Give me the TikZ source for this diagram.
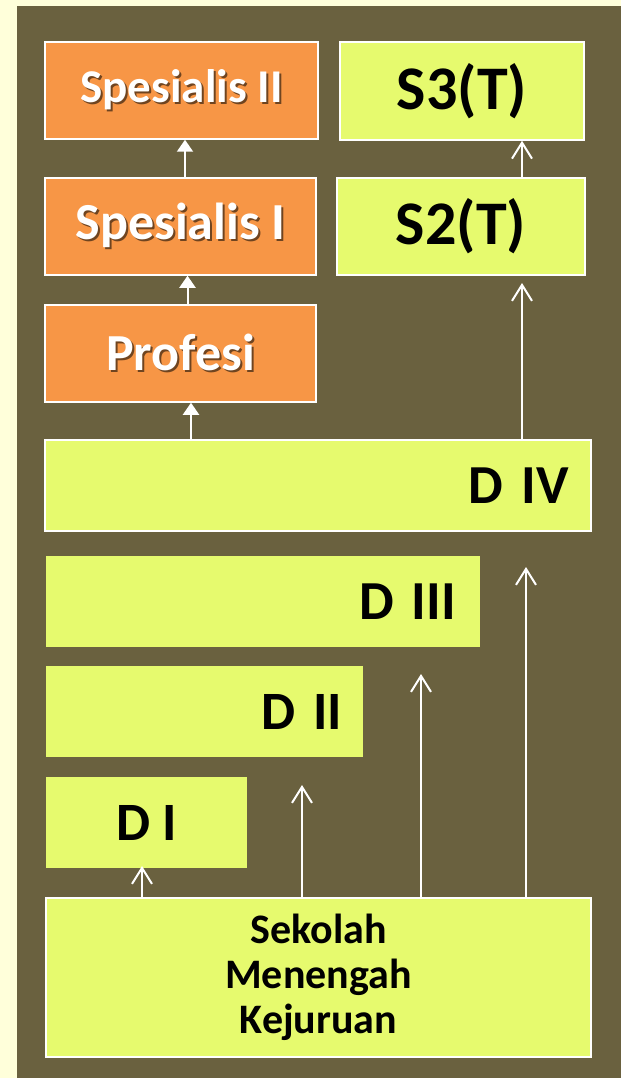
\documentclass[tikz,border=0pt]{standalone}
\usepackage{fontspec}
\setmainfont{Carlito}
\usetikzlibrary{arrows.meta}
\definecolor{pagecream}{HTML}{FFFFDA}
\definecolor{slidebg}{HTML}{6A613F}
\definecolor{boxorange}{HTML}{F79646}
\definecolor{boxlime}{HTML}{E6FA6E}
\newcommand{\boxfont}[2]{\bfseries\fontsize{#1pt}{#2pt}\selectfont}
\newcommand{\levelfont}[1]{\bfseries\fontsize{#1pt}{#1pt}\selectfont\spaceskip=0.14em}
\newcommand{\shadowed}[1]{\leavevmode\rlap{\kern2pt\raisebox{-2pt}{\textcolor{boxorange!45!black}{#1}}}#1}

\begin{document}
\begin{tikzpicture}
    [
    x=1pt, y=-1pt
    , orangebox/.style = {draw=white,line width=1.5pt,fill=boxorange,text=white,inner sep=0pt}
    , limebox/.style = {draw=white,line width=1.5pt,fill=boxlime,text=black,inner sep=0pt}
    , flatbox/.style = {fill=boxlime,text=black,inner sep=0pt}
    , solidarrow/.style = {white,line width=2pt,-{Triangle[length=12pt,width=16pt]}}
    , openarrow/.style = {white,line width=2pt,-{Straight Barb[length=16pt,width=20pt]}}
    ]
% slide background
\fill[pagecream] (0,0) rectangle (621,1078);
\fill[slidebg] (17,6) rectangle (621,1078);

% profession track
\node[orangebox,minimum width=273pt,minimum height=97pt,font=\boxfont{47}{50}] (spes2) at (181.5,90.5) {\shadowed{Spesialis II}};
\node[orangebox,minimum width=271pt,minimum height=97pt,font=\boxfont{52}{55}] (spes1) at (180.5,226.5) {\shadowed{Spesialis I}};
\node[orangebox,minimum width=271pt,minimum height=97pt,font=\boxfont{52}{55}] (profesi) at (180.5,353.5) {\shadowed{Profesi}};

% applied track
\node[limebox,minimum width=244pt,minimum height=98pt,font=\boxfont{62}{65}] (sthree) at (462,91) {S3(T)};
\node[limebox,minimum width=248pt,minimum height=97pt,font=\boxfont{62}{65}] (stwo) at (461,226.5) {S2(T)};

% diploma levels
\node[limebox,inner xsep=22pt,text width=502pt,align=right,minimum height=91pt,font=\levelfont{55}] (dfour) at (318,485.5) {D IV};
\node[flatbox,inner xsep=24pt,text width=386pt,align=right,minimum height=91pt,font=\levelfont{55}] (dthree) at (263,601.5) {D III};
\node[flatbox,inner xsep=21pt,text width=275pt,align=right,minimum height=91pt,font=\levelfont{54}] (dtwo) at (204.5,711.5) {D II};
\node[flatbox,minimum width=201pt,minimum height=91pt,font=\boxfont{54}{56}] (done) at (146.5,822.5) {D I};

\node[limebox,minimum width=545pt,minimum height=159pt,align=center,font=\boxfont{42}{45}] (smk) at (318.5,977.5) {Sekolah\\Menengah\\Kejuruan};

% free arrow ends
\coordinate (tipone) at (142,866);
\coordinate (tiptwo) at (302,785);
\coordinate (tipthree) at (421,674);
\coordinate (tipfour) at (526,567);
\coordinate (tipstwo) at (522,283);

\draw[solidarrow] ([xshift=4.5pt]spes1.north) -- ([xshift=4.5pt]spes1.north |- spes2.south);
\draw[solidarrow] ([xshift=7pt]profesi.north) -- ([xshift=7pt]profesi.north |- spes1.south);
\draw[solidarrow] ([xshift=10.5pt]profesi.south |- dfour.north) -- ([xshift=10.5pt]profesi.south);

\draw[openarrow] (dfour.north -| tipstwo) -- (tipstwo);
\draw[openarrow] (stwo.north -| tipstwo) -- (sthree.south -| tipstwo);

\draw[openarrow] (smk.north -| tipone) -- (tipone);
\draw[openarrow] (smk.north -| tiptwo) -- (tiptwo);
\draw[openarrow] (smk.north -| tipthree) -- (tipthree);
\draw[openarrow] (smk.north -| tipfour) -- (tipfour);
\end{tikzpicture}
\end{document}
